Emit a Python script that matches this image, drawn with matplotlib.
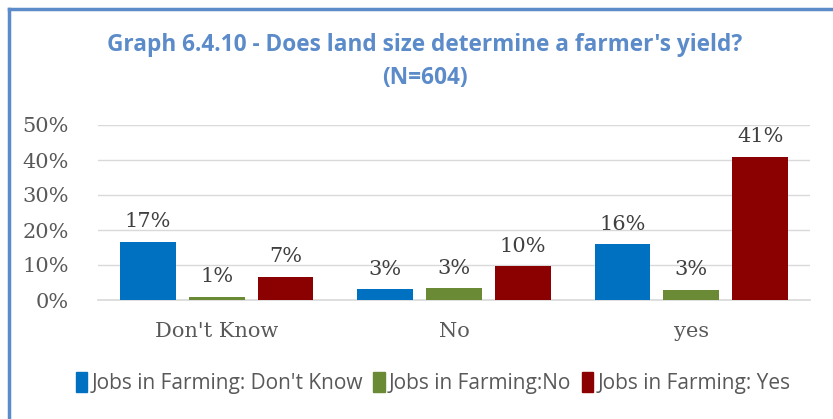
import numpy as np
import matplotlib.pyplot as plt
from matplotlib.lines import Line2D
from matplotlib.patches import Patch

categories = ["Don't Know", "No", "yes"]
series_names = ["Jobs in Farming: Don't Know", "Jobs in Farming:No", "Jobs in Farming: Yes"]
dont_know = [16.6, 3.1, 16.0]
no = [0.9, 3.4, 2.9]
yes = [6.6, 9.7, 40.9]
labels = [["17%", "3%", "16%"], ["1%", "3%", "3%"], ["7%", "10%", "41%"]]
colors = ["#0070C0", "#6A8A35", "#8B0000"]

serif = ["DejaVu Serif"]
sans = ["Open Sans", "DejaVu Sans"]

fig = plt.figure(figsize=(8.33, 4.19), dpi=100)
ax = fig.add_axes([98 / 833, 1 - 300 / 419, 712 / 833, 175 / 419])

x = np.arange(len(categories))
width = 0.235
step = 0.29
for i, vals in enumerate([dont_know, no, yes]):
    pos = x + (i - 1) * step
    ax.bar(pos, vals, width, color=colors[i], zorder=3)
    for p, v, t in zip(pos, vals, labels[i]):
        ax.text(p, v + 3.0, t, ha='center', va='bottom', fontsize=15,
                family=serif, color='#404040')

ax.set_xlim(-0.5, 2.5)
ax.set_ylim(0, 50)
ax.set_yticks(range(0, 51, 10))
ax.set_yticklabels([f"{t}%" for t in range(0, 51, 10)], family=serif,
                   fontsize=15, color='#595959')
ax.set_xticks(x)
ax.set_xticklabels(categories, family=serif, fontsize=15, color='#595959')
ax.tick_params(length=0)
ax.tick_params(axis='x', pad=16)
ax.tick_params(axis='y', pad=21)
ax.grid(axis='y', color='#D9D9D9', lw=1, zorder=0)
for s in ['top', 'right', 'left']:
    ax.spines[s].set_visible(False)
ax.spines['bottom'].set_color('#D9D9D9')
ax.spines['bottom'].set_linewidth(1.2)

fig.text(0.51, 1 - 45 / 419, "Graph 6.4.10 - Does land size determine a farmer's yield?",
         ha='center', va='center', fontsize=16.3, weight='bold', color='#5B8BC9', family=sans)
fig.text(0.51, 1 - 78 / 419, "(N=604)",
         ha='center', va='center', fontsize=16.3, weight='bold', color='#5B8BC9', family=sans)

handles = [Patch(color=c) for c in colors]
fig.legend(handles, series_names, loc='center', bbox_to_anchor=(0.52, 1 - 383 / 419),
           ncol=3, frameon=False, handlelength=0.55, handleheight=1.1,
           handletextpad=0.2, columnspacing=0.5,
           prop={'family': sans, 'size': 15}, labelcolor='#595959')

# blue frame on left and top edges
fig.add_artist(Line2D([9 / 833, 9 / 833], [0, 1 - 9 / 419], color='#5B8BC9', lw=2.5,
                      transform=fig.transFigure))
fig.add_artist(Line2D([9 / 833, 1], [1 - 9 / 419, 1 - 9 / 419], color='#5B8BC9', lw=2.5,
                      transform=fig.transFigure))

fig.savefig('out.png', dpi=100)
